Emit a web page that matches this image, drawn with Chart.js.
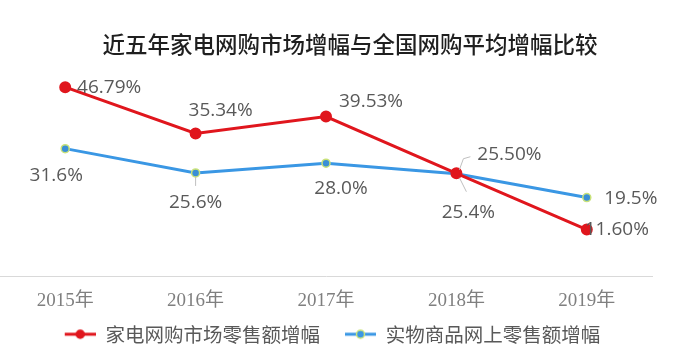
<!DOCTYPE html>
<html>
<head>
<meta charset="utf-8">
<script src="https://cdn.jsdelivr.net/npm/chart.js@4/dist/chart.umd.min.js"></script>
<style>
  html, body { margin: 0; padding: 0; background: #ffffff; }
  #box { width: 700px; height: 361px; }
</style>
</head>
<body>
<div id="box"><canvas id="zhexian"></canvas></div>
<script>
// ..... donnees .....
const annees = ['2015年', '2016年', '2017年', '2018年', '2019年'];
const jiadian = [46.79, 35.34, 39.53, 25.50, 11.60];   // 家电网购市场零售额增幅
const shiwu = [31.6, 25.6, 28.0, 25.4, 19.5];          // 实物商品网上零售额增幅
const jiadianTxt = ['46.79%', '35.34%', '39.53%', '25.50%', '11.60%'];
const shiwuTxt = ['31.6%', '25.6%', '28.0%', '25.4%', '19.5%'];

const rouge = '#e0161d';
const bleu = '#3a97e4';
const bordVert = '#c9e27a';
const gris = '#595959';

// decalage des etiquettes (pixels, par rapport au point)
const decalRouge = [[44, 0], [25, -23], [45, -15], [53, -19], [30, 0]];
const decalBleu = [[-9, 27], [0, 30], [15, 25], [12, 39], [44, 1]];

// petites images pour la legende : trait + rond
function marque(couleur, fond, bord) {
  const c = document.createElement('canvas');
  c.width = 44; c.height = 12;
  const g = c.getContext('2d');
  g.strokeStyle = couleur; g.lineWidth = 3;
  g.beginPath(); g.moveTo(13, 6); g.lineTo(44, 6); g.stroke();
  g.beginPath(); g.arc(28.5, 6, 4, 0, Math.PI * 2);
  g.fillStyle = fond; g.fill();
  g.lineWidth = 1.5; g.strokeStyle = bord; g.stroke();
  return c;
}
const imgRouge = marque(rouge, rouge, rouge);
const imgBleu = marque(bleu, bleu, bordVert);

const etiquettes = {
  id: 'etiquettes',
  afterDatasetsDraw(chart) {
    const ctx = chart.ctx;
    ctx.save();
    // traits de rappel
    ctx.strokeStyle = '#bfbfbf';
    ctx.lineWidth = 1;
    const p18 = chart.getDatasetMeta(1).data[3];
    ctx.beginPath();
    ctx.moveTo(p18.x + 3, p18.y - 4); ctx.lineTo(p18.x + 7, p18.y - 15); ctx.lineTo(p18.x + 14, p18.y - 17);
    ctx.moveTo(p18.x + 3, p18.y + 4); ctx.lineTo(p18.x + 10, p18.y + 18);
    ctx.stroke();
    const p16 = chart.getDatasetMeta(1).data[1];
    ctx.beginPath(); ctx.moveTo(p16.x, p16.y + 4); ctx.lineTo(p16.x, p16.y + 13); ctx.stroke();

    ctx.font = '19px "Open Sans", sans-serif';
    ctx.fillStyle = gris;
    ctx.textAlign = 'center';
    ctx.textBaseline = 'middle';
    chart.getDatasetMeta(0).data.forEach((pt, i) => {
      ctx.fillText(jiadianTxt[i], pt.x + decalRouge[i][0], pt.y + decalRouge[i][1]);
    });
    chart.getDatasetMeta(1).data.forEach((pt, i) => {
      ctx.fillText(shiwuTxt[i], pt.x + decalBleu[i][0], pt.y + decalBleu[i][1]);
    });
    ctx.restore();
  }
};

const ctx = document.getElementById('zhexian').getContext('2d');
const chart = new Chart(ctx, {
  type: 'line',
  data: {
    labels: annees,
    datasets: [{
      label: '家电网购市场零售额增幅',
      data: jiadian,
      borderColor: rouge,
      backgroundColor: rouge,
      borderWidth: 3,
      pointRadius: 4.5,
      pointBackgroundColor: rouge,
      pointBorderColor: rouge,
      tension: 0
    }, {
      label: '实物商品网上零售额增幅',
      data: shiwu,
      borderColor: bleu,
      backgroundColor: bleu,
      borderWidth: 3,
      pointRadius: 4,
      pointBorderWidth: 1.5,
      pointBackgroundColor: '#3a8fd6',
      pointBorderColor: bordVert,
      tension: 0
    }]
  },
  options: {
    responsive: true,
    maintainAspectRatio: false,
    animation: false,
    layout: { autoPadding: false, padding: { left: 0, right: 0, top: 0, bottom: 7 } },
    plugins: {
      title: {
        display: true,
        text: '近五年家电网购市场增幅与全国网购平均增幅比较',
        color: '#1f1f1f',
        font: { family: '"Noto Sans CJK SC", sans-serif', size: 22.5, weight: 500 },
        padding: { top: 31, bottom: 0 }
      },
      legend: {
        position: 'bottom',
        fullSize: false,
        labels: {
          usePointStyle: true,
          pointStyleWidth: 44,
          padding: 12,
          color: gris,
          font: { family: '"Noto Sans CJK SC", sans-serif', size: 19.5 },
          generateLabels(chart) {
            const items = Chart.defaults.plugins.legend.labels.generateLabels(chart);
            items[0].pointStyle = imgRouge;
            items[1].pointStyle = imgBleu;
            return items;
          }
        }
      },
      tooltip: { enabled: false }
    },
    scales: {
      x: {
        offset: true,
        grid: { display: false, drawTicks: false },
        border: { display: true, color: '#d9d9d9', width: 1 },
        ticks: {
          padding: 13,
          color: '#7f7f7f',
          font: { family: '"Liberation Serif", "Noto Sans CJK SC", serif', size: 19 }
        },
        afterFit(s) { s.height = 36; s.paddingLeft = 0; s.paddingRight = 0; }
      },
      y: {
        position: 'right',
        min: 0,
        max: 54,
        grid: { display: false, drawTicks: false },
        border: { display: false },
        ticks: { display: false },
        afterFit(s) { s.width = 48; }
      }
    }
  },
  plugins: [etiquettes]
});
</script>
</body>
</html>
